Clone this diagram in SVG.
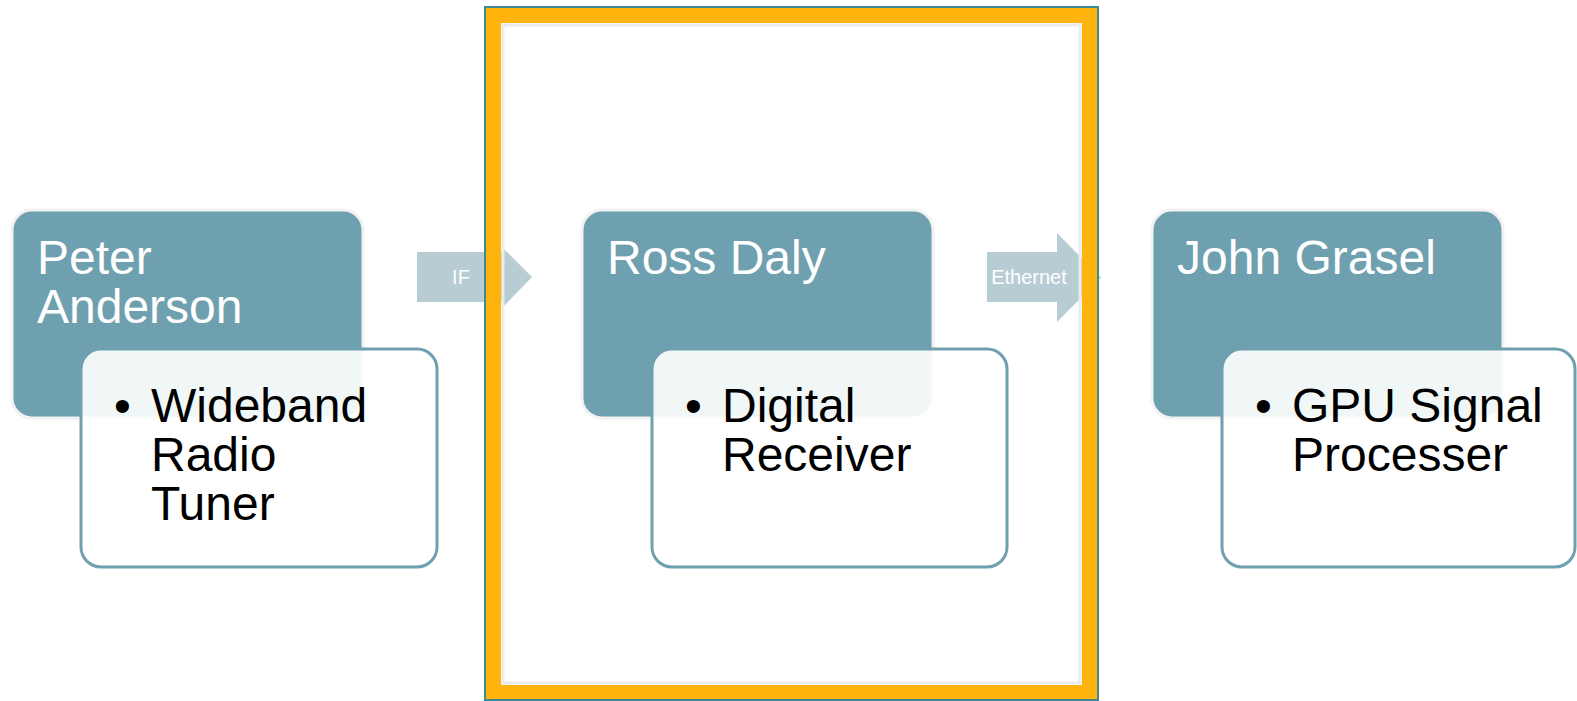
<svg xmlns="http://www.w3.org/2000/svg" width="1577" height="701" viewBox="0 0 1577 701">
<style>
.bg{fill:#ffffff}
.head{fill:#6fa0b0;stroke:#f2f2f2;stroke-width:3}
.body{fill:#ffffff;fill-opacity:0.9;stroke:#6fa0b0;stroke-width:3}
.name{font-family:"Liberation Sans",Arial,sans-serif;font-size:48px;fill:#ffffff}
.item{font-family:"Liberation Sans",Arial,sans-serif;font-size:48px;fill:#000000}
.arrow{fill:#b8ccd4}
.alabel{font-family:"Liberation Sans",Arial,sans-serif;font-size:20px;fill:#ffffff;text-anchor:middle}
</style>
<rect class="bg" x="0" y="0" width="1577" height="701"/>

<g id="connectors">
  <g id="arrow-if">
    <polygon class="arrow" points="417,252 503,252 503,248 532,277 503,307 503,302 417,302"/>
    <text class="alabel" x="461" y="284">IF</text>
  </g>
  <g id="arrow-ethernet">
    <polygon class="arrow" points="987,252 1057,252 1057,233 1101,277.5 1057,322 1057,302 987,302"/>
    <text class="alabel" x="1029" y="284">Ethernet</text>
  </g>
</g>

<g id="node-peter">
  <rect class="head" x="12" y="210" width="351" height="208" rx="20"/>
  <text class="name" x="37" y="274">Peter</text>
  <text class="name" x="37" y="323">Anderson</text>
  <rect class="body" x="81" y="349" width="356" height="218" rx="20"/>
  <text class="item" x="114" y="422">•</text>
  <text class="item" x="151" y="422">Wideband</text>
  <text class="item" x="151" y="471">Radio</text>
  <text class="item" x="151" y="520">Tuner</text>
</g>

<g id="node-ross">
  <rect class="head" x="582" y="210" width="351" height="208" rx="20"/>
  <text class="name" x="607" y="274">Ross Daly</text>
  <rect class="body" x="652" y="349" width="355" height="218" rx="20"/>
  <text class="item" x="685" y="422">•</text>
  <text class="item" x="722" y="422">Digital</text>
  <text class="item" x="722" y="471">Receiver</text>
</g>

<g id="node-john">
  <rect class="head" x="1152" y="210" width="351" height="208" rx="20"/>
  <text class="name" x="1177" y="274">John Grasel</text>
  <rect class="body" x="1222" y="349" width="353" height="218" rx="20"/>
  <text class="item" x="1255" y="422">•</text>
  <text class="item" x="1292" y="422">GPU Signal</text>
  <text class="item" x="1292" y="471">Processer</text>
</g>

<g id="highlight-frame">
  <rect x="503" y="25" width="577" height="658" fill="none" stroke="#ebebeb" stroke-width="3"/>
  <rect x="493" y="15" width="597" height="678" fill="none" stroke="#ffb30d" stroke-width="16"/>
  <rect x="485" y="7" width="613" height="693" fill="none" stroke="#3d8a96" stroke-width="2"/>
</g>
</svg>
